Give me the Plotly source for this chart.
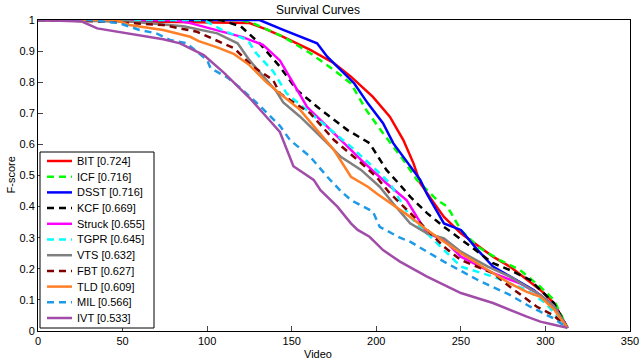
import plotly.graph_objects as go

# tracker names and their scores shown in the legend
trackers = ['BIT', 'ICF', 'DSST', 'KCF', 'Struck', 'TGPR', 'VTS', 'FBT', 'TLD', 'MIL', 'IVT']
scores = ['0.724', '0.716', '0.716', '0.669', '0.655', '0.645', '0.632', '0.627', '0.609', '0.566', '0.533']

# survival curves: video index -> F-score
bit_x = [0, 125, 135, 145, 161, 175, 185, 198, 208, 216, 222, 226, 233, 240, 250, 260, 269, 279, 289, 297, 305, 313]
bit_y = [1, 0.99, 0.97, 0.946, 0.904, 0.861, 0.818, 0.753, 0.689, 0.614, 0.539, 0.475, 0.42, 0.367, 0.314, 0.275, 0.239, 0.207, 0.164, 0.132, 0.09, 0.01]

icf_x = [0, 120, 127, 145, 161, 175, 185, 194, 204, 216, 224, 236, 242, 250, 260, 273, 285, 297, 305, 313]
icf_y = [1, 1, 0.99, 0.946, 0.893, 0.839, 0.796, 0.711, 0.636, 0.55, 0.486, 0.421, 0.4, 0.325, 0.271, 0.228, 0.196, 0.142, 0.1, 0.01]

dsst_x = [0, 131, 145, 165, 171, 179, 187, 195, 204, 210, 220, 226, 230, 240, 250, 260, 269, 279, 293, 305, 313]
dsst_y = [1, 1, 0.968, 0.925, 0.882, 0.839, 0.796, 0.732, 0.668, 0.604, 0.528, 0.486, 0.44, 0.346, 0.325, 0.26, 0.207, 0.175, 0.132, 0.08, 0.01]

kcf_x = [0, 108, 120, 131, 143, 153, 165, 183, 196, 206, 214, 220, 230, 240, 256, 269, 279, 291, 297, 305, 313]
kcf_y = [1, 1, 0.979, 0.925, 0.85, 0.775, 0.721, 0.646, 0.604, 0.518, 0.47, 0.432, 0.379, 0.335, 0.271, 0.218, 0.196, 0.164, 0.132, 0.09, 0.01]

struck_x = [0, 80, 90, 113, 121, 133, 143, 151, 159, 171, 181, 191, 206, 218, 230, 240, 250, 269, 285, 297, 305, 313]
struck_y = [1, 1, 0.99, 0.957, 0.945, 0.92, 0.87, 0.796, 0.721, 0.657, 0.604, 0.55, 0.475, 0.42, 0.314, 0.293, 0.239, 0.186, 0.153, 0.116, 0.08, 0.01]

tgpr_x = [0, 98, 110, 124, 129, 139, 147, 161, 175, 185, 198, 208, 214, 220, 230, 240, 250, 269, 289, 300, 313]
tgpr_y = [1, 1, 0.965, 0.935, 0.893, 0.835, 0.764, 0.7, 0.636, 0.593, 0.528, 0.475, 0.421, 0.367, 0.314, 0.26, 0.207, 0.175, 0.132, 0.09, 0.01]

vts_x = [0, 54, 86, 106, 118, 125, 133, 141, 145, 155, 171, 179, 191, 202, 210, 220, 230, 240, 250, 266, 279, 289, 297, 305, 313]
vts_y = [1, 0.995, 0.98, 0.957, 0.925, 0.871, 0.82, 0.77, 0.735, 0.689, 0.604, 0.56, 0.518, 0.464, 0.41, 0.346, 0.314, 0.298, 0.255, 0.207, 0.175, 0.142, 0.116, 0.08, 0.01]

fbt_x = [0, 40, 54, 74, 94, 110, 116, 127, 139, 143, 161, 175, 189, 200, 208, 220, 230, 240, 250, 269, 279, 295, 305, 313]
fbt_y = [1, 0.995, 0.99, 0.984, 0.962, 0.925, 0.909, 0.85, 0.807, 0.764, 0.7, 0.614, 0.55, 0.496, 0.443, 0.38, 0.325, 0.271, 0.228, 0.186, 0.142, 0.078, 0.05, 0.01]

tld_x = [0, 46, 54, 74, 90, 95, 106, 116, 125, 135, 145, 155, 165, 175, 185, 195, 200, 206, 220, 230, 250, 266, 279, 289, 297, 305, 313]
tld_y = [1, 1, 0.984, 0.968, 0.946, 0.932, 0.912, 0.89, 0.855, 0.8, 0.755, 0.711, 0.646, 0.582, 0.496, 0.464, 0.443, 0.421, 0.367, 0.325, 0.25, 0.196, 0.153, 0.126, 0.11, 0.07, 0.01]

mil_x = [0, 30, 48, 60, 70, 78, 88, 100, 102, 112, 121, 130, 143, 149, 161, 171, 179, 185, 198, 202, 214, 220, 240, 260, 279, 291, 297, 305, 313]
mil_y = [1, 1, 0.99, 0.968, 0.957, 0.936, 0.925, 0.871, 0.845, 0.815, 0.775, 0.73, 0.66, 0.614, 0.56, 0.496, 0.45, 0.421, 0.384, 0.335, 0.3, 0.287, 0.223, 0.164, 0.116, 0.078, 0.062, 0.04, 0.01]

ivt_x = [0, 26, 35, 54, 74, 84, 94, 98, 110, 118, 125, 135, 143, 151, 163, 167, 177, 185, 189, 196, 204, 214, 230, 250, 269, 289, 297, 305, 313]
ivt_y = [1, 0.995, 0.973, 0.957, 0.938, 0.925, 0.898, 0.887, 0.83, 0.786, 0.75, 0.689, 0.64, 0.53, 0.486, 0.453, 0.4, 0.346, 0.325, 0.303, 0.26, 0.223, 0.175, 0.122, 0.09, 0.046, 0.03, 0.02, 0.01]

curves = [(bit_x, bit_y), (icf_x, icf_y), (dsst_x, dsst_y), (kcf_x, kcf_y), (struck_x, struck_y),
          (tgpr_x, tgpr_y), (vts_x, vts_y), (fbt_x, fbt_y), (tld_x, tld_y), (mil_x, mil_y), (ivt_x, ivt_y)]

colors = ['#ff0000', '#00ff00', '#0000ff', '#000000', '#ff00ff', '#00ffff',
          '#808080', '#800000', '#ff7f27', '#1e9be6', '#a04ca8']
dashes = ['solid', '7px,5px', 'solid', '7px,5px', 'solid', '7px,5px',
          'solid', '7px,5px', 'solid', '7px,5px', 'solid']

W, H = 640, 361
L, R, T, B = 38, 10, 20, 30
pw, ph = W - L - R, H - T - B


def px(x):  # page pixel -> paper x
    return (x - L) / pw


def py(y):  # page pixel -> paper y
    return (H - B - y) / ph


fig = go.Figure()
for name, score, (xs, ys), col, dsh in zip(trackers, scores, curves, colors, dashes):
    fig.add_trace(go.Scatter(
        x=xs, y=ys, mode='lines', name=f'{name} [{score}]', showlegend=False,
        line=dict(color=col, width=2.5, dash=dsh)
    ))

# matlab style legend box, drawn by hand (plotly rows are too tall)
shapes = [dict(type='rect', xref='paper', yref='paper', x0=px(40), x1=px(154), y0=py(328), y1=py(152),
               line=dict(color='black', width=1), fillcolor='white', layer='above')]
annotations = []
for i, (name, score, col, dsh) in enumerate(zip(trackers, scores, colors, dashes)):
    yy = py(161 + 15.7 * i)
    shapes.append(dict(type='line', xref='paper', yref='paper', x0=px(47), x1=px(72), y0=yy, y1=yy,
                       line=dict(color=col, width=2.5, dash=dsh), layer='above'))
    annotations.append(dict(text=f'{name} [{score}]', xref='paper', yref='paper', x=px(75), y=yy,
                            xanchor='left', yanchor='middle', showarrow=False,
                            font=dict(size=11, color='black')))

annotations += [
    dict(text='Video', xref='paper', yref='paper', x=px(318), y=py(354), yanchor='middle',
         showarrow=False, font=dict(size=11)),
    dict(text='F-score', xref='paper', yref='paper', x=px(10), y=0.5, xanchor='center',
         textangle=-90, showarrow=False, font=dict(size=11)),
]

fig.update_layout(
    width=W, height=H,
    margin=dict(l=L, r=R, t=T, b=B),
    paper_bgcolor='white', plot_bgcolor='white',
    font=dict(family='Arial, Liberation Sans, sans-serif', size=11, color='black'),
    title=dict(text='Survival Curves', x=318 / W, xanchor='center', y=1 - 10 / H, yanchor='middle',
               yref='container', font=dict(size=12, color='black')),
    xaxis=dict(range=[0, 350], tickvals=[0, 50, 100, 150, 200, 250, 300, 350],
               ticks='inside', ticklen=5, showline=True, linecolor='black', linewidth=1,
               mirror=True, showgrid=False, zeroline=False, automargin=False),
    yaxis=dict(range=[0, 1], tickvals=[0, 0.1, 0.2, 0.3, 0.4, 0.5, 0.6, 0.7, 0.8, 0.9, 1],
               ticktext=['0', '0.1', '0.2', '0.3', '0.4', '0.5', '0.6', '0.7', '0.8', '0.9', '1'],
               ticks='inside', ticklen=5, showline=True, linecolor='black', linewidth=1,
               mirror=True, showgrid=False, zeroline=False, automargin=False),
    shapes=shapes,
    annotations=annotations,
    showlegend=False,
)

# the page's default 8px body margin would shift the whole figure
fig.write_html('out.html', config={'displayModeBar': False},
               post_script="document.body.style.margin='0px';")
